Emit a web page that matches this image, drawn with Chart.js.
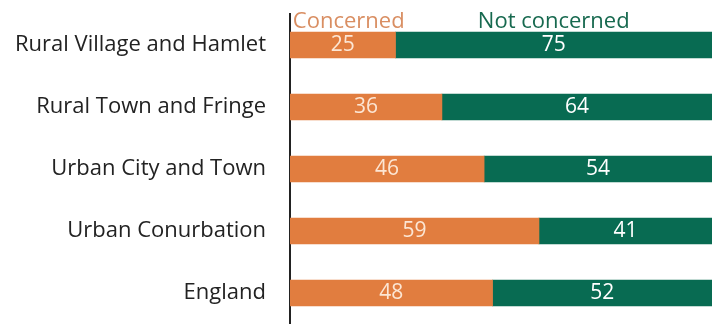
<!DOCTYPE html>
<html lang="en">
<head>
    <meta charset="UTF-8">
    <title>Concerned by area type</title>
    <script src="https://cdn.jsdelivr.net/npm/chart.js"></script>
    <style>
        body {
            margin: 0;
            padding: 0;
            background: #fff;
            overflow: hidden;
        }
        canvas {
            display: block;
        }
    </style>
</head>
<body>
    <canvas id="areaChart" width="712" height="324"></canvas>

    <script>
        const areas = ['Rural Village and Hamlet', 'Rural Town and Fringe', 'Urban City and Town', 'Urban Conurbation', 'England'];
        const concerned = [25, 36, 46, 59, 48];
        const notConcerned = [75, 64, 54, 41, 52];
        const seriesNames = ['Concerned', 'Not concerned'];

        const ORANGE = '#E17D3F';
        const GREEN = '#086B52';
        const FONT = '"Open Sans", sans-serif';

        // numbers inside the bars + series names above the first bar
        const barLabels = {
            id: 'barLabels',
            afterDatasetsDraw(chart) {
                const ctx = chart.ctx;
                ctx.save();
                ctx.textAlign = 'center';
                ctx.textBaseline = 'middle';
                chart.data.datasets.forEach((ds, i) => {
                    const meta = chart.getDatasetMeta(i);
                    meta.data.forEach((bar, j) => {
                        const cx = (bar.x + bar.base) / 2;
                        ctx.font = '21px ' + FONT;
                        ctx.fillStyle = i === 0 ? '#FCE6D4' : '#FFFFFF';
                        ctx.fillText(ds.data[j], cx, bar.y);
                        if (j === 0) {
                            ctx.font = '22px ' + FONT;
                            ctx.fillStyle = i === 0 ? '#D98E62' : '#17694F';
                            ctx.fillText(seriesNames[i], cx + (i === 0 ? 6 : 0), bar.y - 23);
                        }
                    });
                });
                ctx.restore();
            }
        };

        new Chart(document.getElementById('areaChart'), {
            type: 'bar',
            data: {
                labels: areas,
                datasets: [
                    { label: seriesNames[0], data: concerned, backgroundColor: ORANGE, barThickness: 26 },
                    { label: seriesNames[1], data: notConcerned, backgroundColor: GREEN, barThickness: 26 }
                ]
            },
            options: {
                indexAxis: 'y',
                responsive: false,
                animation: false,
                layout: { padding: { top: 14, right: 0, bottom: 0, left: 0 } },
                plugins: {
                    legend: { display: false },
                    tooltip: { enabled: false }
                },
                scales: {
                    x: {
                        stacked: true,
                        min: 0,
                        max: 100,
                        display: false
                    },
                    y: {
                        stacked: true,
                        grid: { display: false, drawTicks: false },
                        border: { display: true, color: '#222', width: 2 },
                        ticks: {
                            color: '#222',
                            padding: 24,
                            font: { family: FONT, size: 22 }
                        },
                        afterFit(scale) {
                            scale.width = 290;
                            scale.paddingTop = 0;
                            scale.paddingBottom = 0;
                        }
                    }
                }
            },
            plugins: [barLabels]
        });
    </script>
</body>
</html>
